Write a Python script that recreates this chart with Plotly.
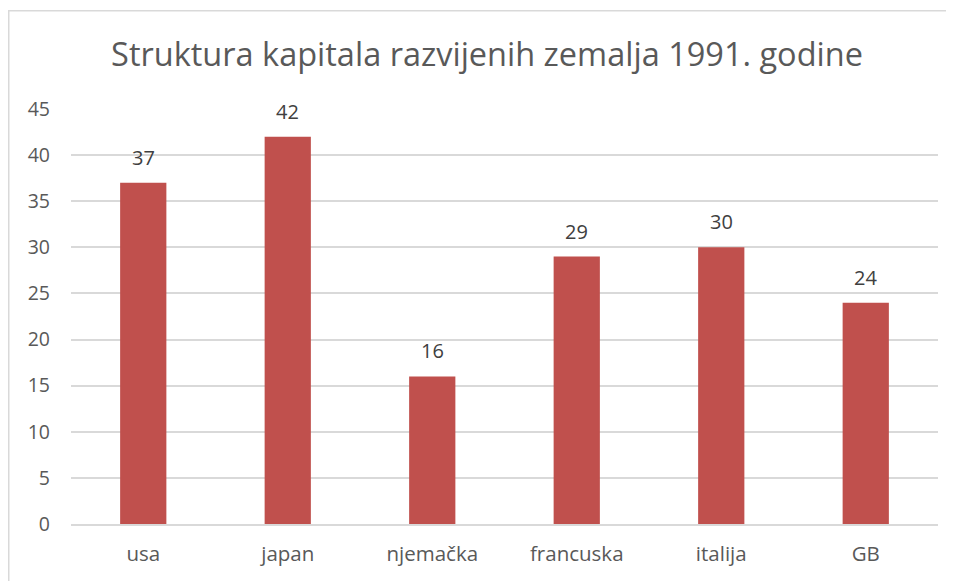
import plotly.graph_objects as go

categories = ["usa", "japan", "njemačka", "francuska", "italija", "GB"]
values = [37, 42, 16, 29, 30, 24]
y_ticks = [0, 5, 10, 15, 20, 25, 30, 35, 40, 45]
title_text = "Struktura kapitala razvijenih zemalja 1991. godine"

FONT = "Open Sans"
L, R, T, B = 63, 24, 101, 65
W, H = 954, 581
pw, ph = W - L - R, H - T - B

fig = go.Figure()
fig.add_trace(go.Bar(
    x=categories, y=values,
    marker=dict(color="#C0504D", line=dict(width=0)),
    width=0.32,
    hoverinfo="x+y",
))

for c, v in zip(categories, values):
    fig.add_annotation(
        x=c, y=v, text=str(v), showarrow=False,
        yanchor="bottom", yshift=10,
        font=dict(family=FONT, size=20, color="#404040"),
    )

# outer chart border (partially cropped in reference)
fig.add_shape(
    type="rect", xref="paper", yref="paper",
    x0=(0.75 - L) / pw, x1=1.2,
    y0=-0.3, y1=(H - B - 2.75) / ph,
    line=dict(color="#D9D9D9", width=1.5),
    layer="below",
)

fig.update_layout(
    width=W, height=H,
    margin=dict(l=L, r=R, t=T, b=B),
    paper_bgcolor="white", plot_bgcolor="white",
    title=dict(
        text=title_text, x=(479 - L) / pw, xref="paper", xanchor="center",
        y=1 - 47 / H, yanchor="middle",
        font=dict(family=FONT, size=32.5, color="#595959"),
    ),
    font=dict(family=FONT, color="#595959"),
    showlegend=False,
    bargap=0.68,
    xaxis=dict(
        showgrid=False, showline=True, linecolor="#D9D9D9", linewidth=1.5,
        ticks="", tickfont=dict(size=20.5, color="#595959"),
        ticklabelstandoff=11,
    ),
    yaxis=dict(
        range=[0, 45], tickvals=y_ticks, showgrid=True,
        gridcolor="#D9D9D9", gridwidth=1.5, zeroline=False,
        showline=False, ticks="", tickfont=dict(size=19.5, color="#595959"),
        ticklabelstandoff=20,
    ),
)

fig.write_html("out.html")
